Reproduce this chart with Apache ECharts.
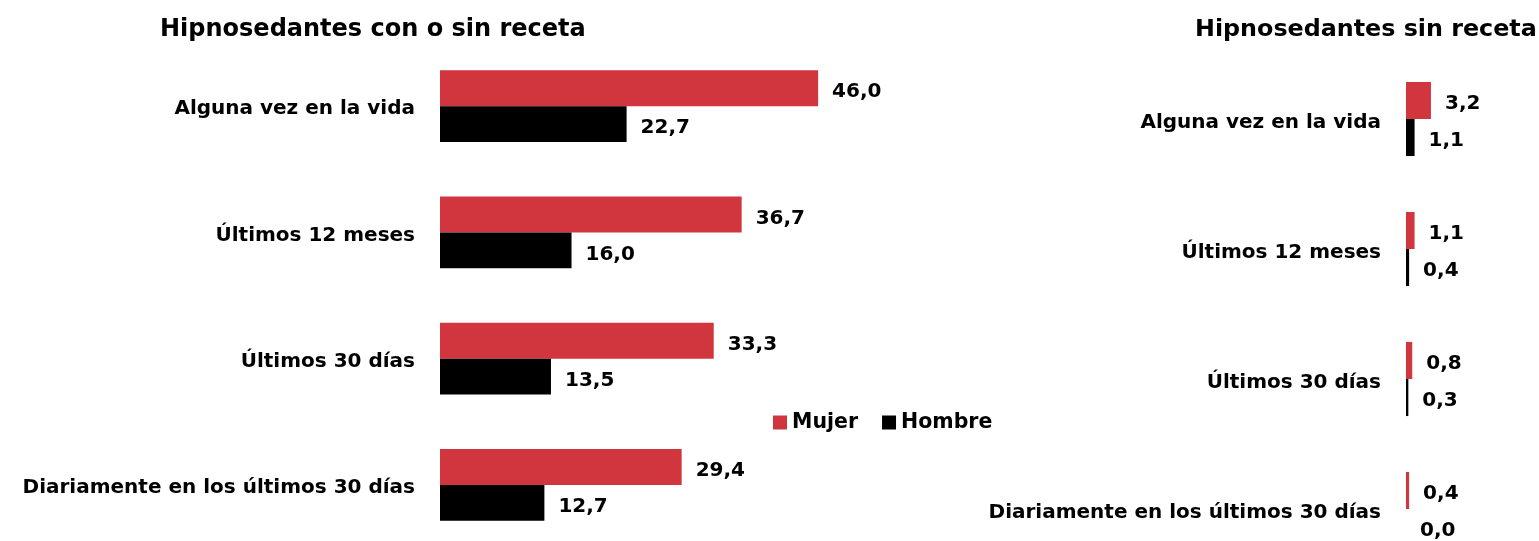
<!DOCTYPE html>
<html>
<head>
<meta charset="utf-8">
<script src="https://cdn.jsdelivr.net/npm/echarts@6/dist/echarts.min.js"></script>
<style>
  html, body { margin: 0; padding: 0; background: #fff; }
  #chart { width: 1539px; height: 541px; }
</style>
</head>
<body>
<div id="chart"></div>
<script>
// Categories shared by both panels
const categories = [
  'Alguna vez en la vida',
  'Últimos 12 meses',
  'Últimos 30 días',
  'Diariamente en los últimos 30 días'
];

// Prevalence (%) — with or without prescription
const mujerTotal = [46.0, 36.7, 33.3, 29.4];
const hombreTotal = [22.7, 16.0, 13.5, 12.7];

// Prevalence (%) — without prescription
const mujerSinReceta = [3.2, 1.1, 0.8, 0.4];
const hombreSinReceta = [1.1, 0.4, 0.3, 0.0];

const seriesNames = ['Mujer', 'Hombre'];
const titles = ['Hipnosedantes con o sin receta', 'Hipnosedantes sin receta'];

const RED = '#D1363F';
const BLACK = '#000000';
const FONT = 'DejaVu Sans';

const fmt = p => p.value.toFixed(1).replace('.', ',');

function labelStyle(dy) {
  return {
    show: true,
    position: 'right',
    distance: 14,
    offset: [0, dy],
    formatter: fmt,
    fontFamily: FONT,
    fontWeight: 'bold',
    fontSize: 20,
    color: '#000'
  };
}

function bar(name, data, axisIndex, color, gap, dy) {
  return {
    name: name,
    type: 'bar',
    xAxisIndex: axisIndex,
    yAxisIndex: axisIndex,
    data: data,
    barGap: '0%',
    barCategoryGap: gap,
    itemStyle: { color: color },
    label: labelStyle(dy),
    animation: false
  };
}

// Category labels sit a little below the band centre; a rich fragment
// with top padding pushes the text down by half of that padding.
function catAxis(gridIndex, padTop) {
  return {
    type: 'category',
    gridIndex: gridIndex,
    data: categories,
    inverse: true,
    axisLine: { show: false },
    axisTick: { show: false },
    axisLabel: {
      margin: 25,
      formatter: v => '{c|' + v + '}',
      rich: {
        c: {
          padding: [padTop, 0, 0, 0],
          fontFamily: FONT,
          fontWeight: 'bold',
          fontSize: 20,
          color: '#000'
        }
      }
    }
  };
}

function valAxis(gridIndex, max) {
  return {
    type: 'value',
    gridIndex: gridIndex,
    min: 0,
    max: max,
    show: false,
    splitLine: { show: false }
  };
}

const chart = echarts.init(document.getElementById('chart'), null, { renderer: 'canvas' });
chart.setOption({
  backgroundColor: '#fff',
  title: [
    { text: titles[0], left: 155, top: 13,
      textStyle: { fontFamily: FONT, fontWeight: 'bold', fontSize: 24, color: '#000' } },
    { text: titles[1], left: 1190, top: 13,
      textStyle: { fontFamily: FONT, fontWeight: 'bold', fontSize: 23.8, color: '#000' } }
  ],
  legend: {
    data: seriesNames,
    left: 768,
    top: 407,
    icon: 'rect',
    itemWidth: 14,
    itemHeight: 14,
    itemGap: 24,
    textStyle: { fontFamily: FONT, fontWeight: 'bold', fontSize: 20.5, color: '#000' }
  },
  grid: [
    { left: 440, width: 822, top: 43, height: 505, outerBoundsMode: 'none', containLabel: false },
    { left: 1406, width: 78, top: 54, height: 520, outerBoundsMode: 'none', containLabel: false }
  ],
  xAxis: [valAxis(0, 100), valAxis(1, 10)],
  yAxis: [catAxis(0, 6), catAxis(1, 7)],
  series: [
    bar(seriesNames[0], mujerTotal, 0, RED, '43%', 4),
    bar(seriesNames[1], hombreTotal, 0, BLACK, '43%', 4),
    bar(seriesNames[0], mujerSinReceta, 1, RED, '43%', 3),
    bar(seriesNames[1], hombreSinReceta, 1, BLACK, '43%', 3)
  ]
});
</script>
</body>
</html>
